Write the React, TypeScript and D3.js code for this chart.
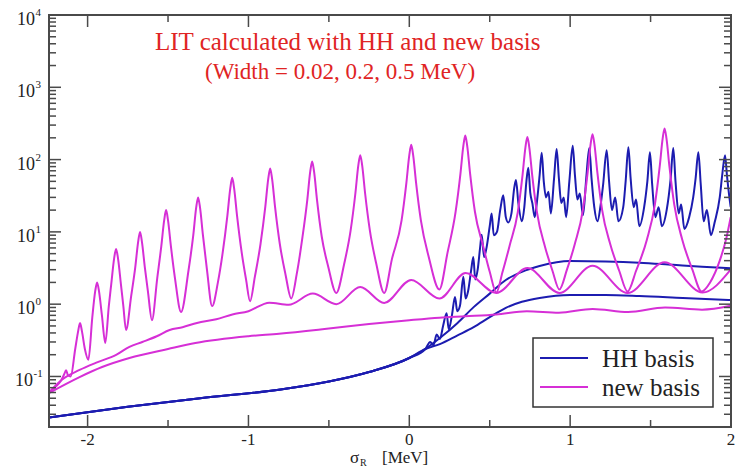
import React from "react";
import * as d3 from "d3";

// chart data: [sigma_R (MeV), LIT value]
const hhLow: [number, number][] = [
  [-2.24, 0.027], [-1.75, 0.038], [-1.3, 0.05], [-0.8, 0.066], [-0.5, 0.085],
  [-0.25, 0.115], [0, 0.18], [0.1, 0.24],
];

const hhNarrowTail: [number, number][] = [
  [0.13, 0.3], [0.15, 0.27], [0.17, 0.38], [0.19, 0.33], [0.21, 0.5], [0.232, 0.75],
  [0.245, 0.45], [0.265, 0.7], [0.284, 1.26], [0.298, 0.8], [0.315, 0.95], [0.336, 2.4],
  [0.35, 1.2], [0.365, 1.5], [0.385, 3.0], [0.398, 4.5], [0.41, 2.2], [0.425, 3.0],
  [0.44, 6.0], [0.45, 9.1], [0.465, 4.5], [0.48, 6.0], [0.5, 12], [0.512, 18],
  [0.525, 9], [0.545, 10], [0.565, 20], [0.584, 32], [0.6, 16], [0.615, 13.5],
  [0.635, 18], [0.652, 40], [0.663, 52], [0.678, 25], [0.7, 14], [0.715, 22],
  [0.728, 50], [0.74, 77], [0.752, 35], [0.765, 25], [0.78, 16],
  [0.795, 28], [0.81, 60], [0.823, 124], [0.836, 50], [0.85, 30], [0.865, 36], [0.88, 18],
  [0.9, 55], [0.916, 140], [0.93, 55], [0.945, 25], [0.96, 30], [0.975, 16],
  [0.995, 50], [1.016, 155], [1.03, 60], [1.045, 28], [1.06, 34], [1.08, 17],
  [1.1, 55], [1.119, 145], [1.133, 55], [1.15, 22], [1.17, 14], [1.19, 24], [1.205, 45],
  [1.227, 135], [1.242, 50], [1.26, 20], [1.28, 30], [1.3, 14], [1.33, 22], [1.345, 50],
  [1.362, 148], [1.376, 55], [1.395, 22], [1.41, 28], [1.43, 12], [1.46, 22], [1.48, 50],
  [1.496, 126], [1.51, 45], [1.53, 16], [1.55, 22], [1.57, 12], [1.6, 20], [1.625, 55],
  [1.641, 145], [1.655, 50], [1.675, 18], [1.69, 24], [1.71, 11], [1.74, 16], [1.765, 30],
  [1.78, 55], [1.797, 126], [1.812, 45], [1.83, 14], [1.85, 20], [1.875, 9], [1.9, 14],
  [1.93, 30], [1.945, 60], [1.963, 115], [1.975, 60], [1.99, 30], [1.998, 22],
];

const hhMediumTail: [number, number][] = [
  [0.19, 0.34], [0.3, 0.55], [0.4, 0.91], [0.5, 1.4], [0.6, 2.16], [0.7, 2.8],
  [0.81, 3.37], [1.0, 3.96], [1.22, 3.9], [1.43, 3.75], [1.64, 3.5], [1.82, 3.3],
  [2.0, 3.15],
];

const hhWideTail: [number, number][] = [
  [0.19, 0.28], [0.3, 0.37], [0.4, 0.48], [0.5, 0.66], [0.6, 0.89], [0.7, 1.08],
  [0.81, 1.22], [1.0, 1.34], [1.22, 1.34], [1.43, 1.3], [1.7, 1.22], [2.0, 1.14],
];

const newNarrow: [number, number][] = [
  [-2.24, 0.06], [-2.2, 0.072], [-2.165, 0.088], [-2.145, 0.108], [-2.134, 0.122],
  [-2.122, 0.104], [-2.105, 0.1], [-2.077, 0.24], [-2.059, 0.42], [-2.047, 0.55],
  [-2.035, 0.42], [-2.017, 0.24], [-1.995, 0.17],
  [-1.971, 0.65], [-1.953, 1.5], [-1.941, 2.0], [-1.929, 1.5], [-1.911, 0.7], [-1.89, 0.29],
  [-1.868, 0.95], [-1.853, 1.9], [-1.835, 4.3], [-1.823, 5.8], [-1.811, 4.3], [-1.793, 1.9],
  [-1.778, 0.95], [-1.761, 0.44],
  [-1.729, 1.3], [-1.704, 3.2], [-1.686, 7.2], [-1.674, 10], [-1.662, 7.2], [-1.644, 3.2],
  [-1.625, 1.5], [-1.6, 0.6],
  [-1.567, 2.3], [-1.542, 6.3], [-1.524, 14.4], [-1.512, 20], [-1.5, 14.4], [-1.482, 6.3],
  [-1.457, 2.3], [-1.419, 0.78],
  [-1.373, 2.9], [-1.343, 9], [-1.325, 21.6], [-1.313, 30], [-1.301, 21.6], [-1.283, 9],
  [-1.258, 3.0], [-1.226, 0.94],
  [-1.19, 2.0], [-1.161, 5.0], [-1.131, 16.8], [-1.113, 40], [-1.101, 56], [-1.089, 40],
  [-1.071, 16.8], [-1.041, 5.0], [-1.015, 2.2], [-0.99, 1.1],
  [-0.96, 2.4], [-0.925, 6.8], [-0.895, 22.5], [-0.877, 54], [-0.865, 75], [-0.853, 54],
  [-0.835, 22.5], [-0.805, 6.8], [-0.77, 2.6], [-0.734, 1.2],
  [-0.7, 2.6], [-0.664, 8.5], [-0.634, 28], [-0.616, 68], [-0.604, 94], [-0.592, 68],
  [-0.574, 28], [-0.544, 8.5], [-0.504, 3.3], [-0.454, 1.43],
  [-0.405, 3.6], [-0.365, 10.4], [-0.335, 34.5], [-0.317, 83], [-0.305, 115], [-0.293, 83],
  [-0.275, 34.5], [-0.245, 10.4], [-0.205, 3.6], [-0.156, 1.43],
  [-0.108, 4.2], [-0.048, 14.4], [-0.018, 48], [0.0, 115], [0.012, 160], [0.024, 115],
  [0.042, 48], [0.072, 14.4], [0.122, 4.4], [0.187, 1.6],
  [0.238, 5.2], [0.288, 19], [0.318, 64], [0.336, 155], [0.348, 215], [0.36, 155],
  [0.378, 64], [0.408, 19], [0.458, 6.5], [0.5, 2.8], [0.541, 1.45],
  [0.58, 2.8], [0.624, 6.5], [0.674, 18.5], [0.704, 61], [0.722, 148], [0.734, 205],
  [0.746, 148], [0.764, 61], [0.794, 18.5], [0.844, 6.2], [0.89, 2.9], [0.933, 1.6],
  [0.98, 3.0], [1.029, 6.8], [1.079, 20], [1.109, 67], [1.127, 162], [1.139, 225],
  [1.151, 162], [1.169, 67], [1.199, 20], [1.249, 6.8], [1.305, 2.9], [1.357, 1.5],
  [1.41, 2.9], [1.477, 7.8], [1.527, 24], [1.557, 81], [1.575, 195], [1.587, 270],
  [1.599, 195], [1.617, 81], [1.647, 24], [1.697, 7.8], [1.76, 3.0], [1.817, 1.5],
  [1.87, 2.0], [1.93, 4.0], [1.97, 8.0], [1.998, 16],
];

const newMedium: [number, number][] = [
  [-2.24, 0.06], [-2.16, 0.09], [-2.05, 0.123], [-1.95, 0.154], [-1.82, 0.2],
  [-1.74, 0.257], [-1.66, 0.3], [-1.57, 0.36], [-1.49, 0.44], [-1.41, 0.48],
  [-1.32, 0.55], [-1.2, 0.62], [-1.1, 0.72], [-1.0, 0.8], [-0.87, 1.05],
  [-0.75, 0.98], [-0.6, 1.4], [-0.454, 1.0], [-0.305, 1.73], [-0.156, 1.04],
  [0.012, 2.16], [0.187, 1.2], [0.35, 2.7], [0.541, 1.43], [0.734, 3.16],
  [0.933, 1.43], [1.139, 3.4], [1.357, 1.43], [1.587, 3.8], [1.823, 1.45], [1.998, 3.0],
];

const newWide: [number, number][] = [
  [-2.24, 0.059], [-2.05, 0.098], [-1.91, 0.135], [-1.74, 0.18], [-1.5, 0.24],
  [-1.33, 0.29], [-1.0, 0.36], [-0.81, 0.39], [-0.5, 0.46], [-0.25, 0.53],
  [0, 0.6], [0.187, 0.65], [0.35, 0.68], [0.54, 0.72], [0.73, 0.8], [0.93, 0.76],
  [1.14, 0.86], [1.36, 0.78], [1.59, 0.9], [1.82, 0.84], [1.998, 0.95],
];

const xMajorTicks = [-2, -1, 0, 1, 2];
const xMinorTicks = [-1.5, -0.5, 0.5, 1.5];
const yDecades = [-1, 0, 1, 2, 3, 4];
const legendLabels = ["HH basis", "new basis"];

const BLUE = "#1c1cb0";
const MAGENTA = "#d62fd6";
const AXIS = "#4a4a4a";
const FONT = "'Liberation Serif', 'Times New Roman', serif";

export default function App() {
  const left = 49, right = 731, top = 15, bottom = 427;
  const x = d3.scaleLinear().domain([-2.24, 2.0]).range([left, right]);
  const y = d3.scaleLog().domain([0.02, 1e4]).range([bottom, top]);

  const line = d3
    .line<[number, number]>()
    .x((d) => x(d[0]))
    .y((d) => y(d[1]))
    .curve(d3.curveMonotoneX);

  const series = [
    { data: [...hhLow, ...hhWideTail], color: BLUE },
    { data: [...hhLow, ...hhMediumTail], color: BLUE },
    { data: [...hhLow, ...hhNarrowTail], color: BLUE },
    { data: newWide, color: MAGENTA },
    { data: newMedium, color: MAGENTA },
    { data: newNarrow, color: MAGENTA },
  ];

  // minor log ticks 2..9 in every decade of the domain
  const minorY: number[] = [];
  [-2, ...yDecades.slice(0, -1)].forEach((e) => {
    for (let k = 2; k <= 9; k++) minorY.push(k * Math.pow(10, e));
  });

  const major = 12, minor = 7;

  return (
    <svg width={750} height={473} style={{ display: "block", position: "absolute", left: 0, top: 0 }}>
      <rect x={0} y={0} width={750} height={473} fill="#fff" />
      <defs>
        <clipPath id="plot">
          <rect x={left} y={top} width={right - left} height={bottom - top} />
        </clipPath>
      </defs>

      <g clipPath="url(#plot)" fill="none" strokeWidth={2} strokeLinejoin="round">
        {series.map((s, i) => (
          <path key={i} d={line(s.data) || ""} stroke={s.color} />
        ))}
      </g>

      {/* frame */}
      <rect x={left} y={top} width={right - left} height={bottom - top} fill="none" stroke={AXIS} strokeWidth={2} />

      {/* ticks on all four sides, pointing inward */}
      <g stroke={AXIS} strokeWidth={1.5}>
        {xMajorTicks.map((t) => (
          <g key={"xm" + t}>
            <line x1={x(t)} x2={x(t)} y1={bottom} y2={bottom - major} />
            <line x1={x(t)} x2={x(t)} y1={top} y2={top + major} />
          </g>
        ))}
        {xMinorTicks.map((t) => (
          <g key={"xn" + t}>
            <line x1={x(t)} x2={x(t)} y1={bottom} y2={bottom - minor} />
            <line x1={x(t)} x2={x(t)} y1={top} y2={top + minor} />
          </g>
        ))}
        {yDecades.map((e) => (
          <g key={"ym" + e}>
            <line x1={left} x2={left + major} y1={y(Math.pow(10, e))} y2={y(Math.pow(10, e))} />
            <line x1={right} x2={right - major} y1={y(Math.pow(10, e))} y2={y(Math.pow(10, e))} />
          </g>
        ))}
        {minorY
          .filter((v) => v >= 0.02)
          .map((v, i) => (
            <g key={"yn" + i}>
              <line x1={left} x2={left + minor} y1={y(v)} y2={y(v)} />
              <line x1={right} x2={right - minor} y1={y(v)} y2={y(v)} />
            </g>
          ))}
      </g>

      {/* tick labels */}
      <g fontFamily={FONT} fill="#222">
        {xMajorTicks.map((t) => (
          <text key={"xl" + t} x={x(t)} y={445} fontSize={17} textAnchor="middle">
            {t}
          </text>
        ))}
        {yDecades.map((e) => {
          const ty = y(Math.pow(10, e));
          const xe = e < 0 ? 33 : 35;
          return (
            <g key={"yl" + e}>
              <text x={xe} y={ty + 10} fontSize={18} textAnchor="end">10</text>
              <text x={xe + 0.5} y={ty + 1} fontSize={11}>{e}</text>
            </g>
          );
        })}
        <text x={350} y={463} fontSize={17}>σ</text>
        <text x={360} y={466} fontSize={10}>R</text>
        <text x={382} y={463} fontSize={17}>[MeV]</text>
      </g>

      {/* title */}
      <g fontFamily={FONT} fill="#e02424">
        <text x={155} y={50} fontSize={25}>LIT calculated with HH and new basis</text>
        <text x={205} y={79} fontSize={23}>(Width = 0.02, 0.2, 0.5 MeV)</text>
      </g>

      {/* legend */}
      <g fontFamily={FONT}>
        <rect x={533} y={338} width={180} height={69} fill="#fff" stroke="#333" strokeWidth={1.5} />
        {legendLabels.map((lab, i) => (
          <g key={lab}>
            <line x1={540} x2={588} y1={358 + i * 29} y2={358 + i * 29} stroke={i === 0 ? BLUE : MAGENTA} strokeWidth={2} />
            <text x={602} y={367 + i * 29} fontSize={25} fill="#222">
              {lab}
            </text>
          </g>
        ))}
      </g>
    </svg>
  );
}
